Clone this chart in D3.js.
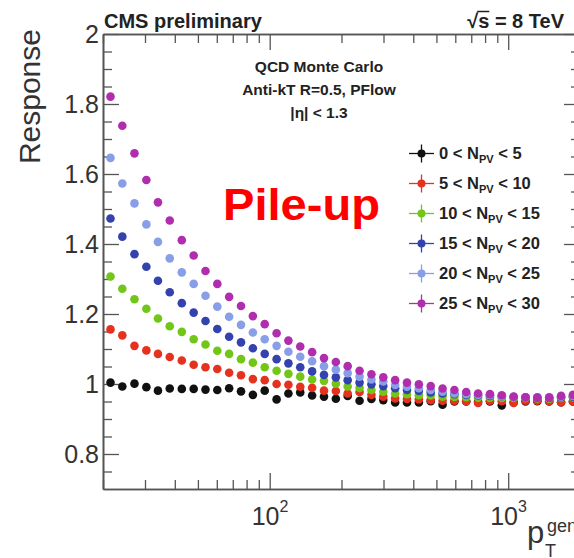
<!DOCTYPE html>
<html>
<head>
<meta charset="utf-8">
<script src="https://cdn.jsdelivr.net/npm/d3@7"></script>
<style>
  html, body { margin: 0; padding: 0; background: #fff; }
  svg { display: block; }
  text { font-family: "Liberation Sans", Arial, Helvetica, sans-serif; }
</style>
</head>
<body>
<svg id="chart" width="574" height="558"></svg>
<script>
// ---------------- data ----------------
const ptBins = [21.5, 24.1, 27.1, 30.4, 34.0, 38.1, 42.8, 48.0, 53.8, 60.3,
  67.6, 75.8, 85.0, 95.3, 106.9, 119.8, 134.3, 150.6, 168.9, 189.4,
  212.3, 238.1, 267.0, 299.4, 335.7, 376.3, 422.0, 473.2, 530.6, 594.9,
  666.8, 747.6, 838.3, 939.9, 1054, 1182, 1325, 1486, 1666, 1868];

const seriesNames = ["0 < N", "5 < N", "10 < N", "15 < N", "20 < N", "25 < N"];
const seriesUpper = ["5", "10", "15", "20", "25", "30"];
const seriesColors = ["#111111", "#e4321e", "#72c617", "#3442ad", "#889ee6", "#b02eae"];

const npv0to5 = [1.004, 0.993, 1.001, 0.991, 0.981, 0.987, 0.986, 0.986, 0.984, 0.983,
  0.988, 0.979, 0.969, 0.981, 0.956, 0.973, 0.976, 0.967, 0.964, 0.958,
  0.966, 0.952, 0.957, 0.954, 0.947, 0.947, 0.947, 0.951, 0.941, 0.950,
  0.950, 0.949, 0.950, 0.939, 0.948, 0.950, 0.951, 0.950, 0.948, 0.950];
const npv5to10 = [1.156, 1.139, 1.109, 1.096, 1.086, 1.077, 1.067, 1.055, 1.048, 1.043,
  1.032, 1.025, 1.014, 1.011, 1.000, 0.998, 0.992, 0.989, 0.981, 0.980,
  0.973, 0.977, 0.969, 0.964, 0.959, 0.957, 0.956, 0.954, 0.952, 0.952,
  0.951, 0.946, 0.952, 0.951, 0.946, 0.952, 0.952, 0.951, 0.947, 0.950];
const npv10to15 = [1.307, 1.272, 1.242, 1.215, 1.187, 1.165, 1.149, 1.128, 1.113, 1.095,
  1.086, 1.071, 1.061, 1.048, 1.038, 1.029, 1.021, 1.013, 1.009, 1.001,
  0.993, 0.989, 0.983, 0.978, 0.973, 0.971, 0.968, 0.967, 0.964, 0.963,
  0.962, 0.961, 0.961, 0.960, 0.960, 0.960, 0.959, 0.958, 0.960, 0.962];
const npv15to20 = [1.473, 1.421, 1.371, 1.335, 1.295, 1.262, 1.231, 1.204, 1.180, 1.157,
  1.135, 1.119, 1.102, 1.086, 1.071, 1.059, 1.048, 1.036, 1.026, 1.019,
  1.011, 1.004, 0.999, 0.994, 0.988, 0.983, 0.980, 0.976, 0.973, 0.971,
  0.969, 0.967, 0.966, 0.965, 0.963, 0.962, 0.961, 0.961, 0.962, 0.964];
const npv20to25 = [1.646, 1.573, 1.516, 1.456, 1.406, 1.359, 1.319, 1.286, 1.252, 1.221,
  1.192, 1.169, 1.147, 1.128, 1.109, 1.092, 1.078, 1.065, 1.051, 1.041,
  1.031, 1.021, 1.013, 1.007, 0.997, 0.992, 0.988, 0.983, 0.978, 0.973,
  0.971, 0.969, 0.968, 0.965, 0.963, 0.962, 0.962, 0.962, 0.964, 0.966];
const npv25to30 = [1.821, 1.738, 1.659, 1.583, 1.519, 1.467, 1.411, 1.367, 1.323, 1.286,
  1.249, 1.223, 1.194, 1.171, 1.145, 1.124, 1.107, 1.091, 1.074, 1.063,
  1.051, 1.038, 1.028, 1.019, 1.011, 1.004, 0.999, 0.994, 0.987, 0.983,
  0.977, 0.973, 0.971, 0.968, 0.964, 0.962, 0.961, 0.961, 0.966, 0.969];

const allSeries = [npv0to5, npv5to10, npv10to15, npv15to20, npv20to25, npv25to30];

const yTicks = [0.8, 1, 1.2, 1.4, 1.6, 1.8, 2];
const yTickLabels = ["0.8", "1", "1.2", "1.4", "1.6", "1.8", "2"];
const yMinorTicks = [0.75, 0.85, 0.9, 0.95, 1.05, 1.1, 1.15, 1.25, 1.3, 1.35, 1.45, 1.5, 1.55, 1.65, 1.7, 1.75, 1.85, 1.9, 1.95];
const xMajorTicks = [100, 1000];
const xTickBase = ["10", "10"];
const xTickExp = ["2", "3"];
const xMinorTicks = [20, 30, 40, 50, 60, 70, 80, 90, 200, 300, 400, 500, 600, 700, 800, 900, 2000];

// ---------------- layout ----------------
const svg = d3.select("#chart");
const L = 103, R = 580, T = 34, B = 489;
const x = d3.scaleLog().domain([20, 2000]).range([L, R]);
const y = d3.scaleLinear().domain([0.7, 2]).range([B, T]);

svg.append("rect").attr("width", 574).attr("height", 558).attr("fill", "#fff");

const axisColor = "#555";
function styleAxis(g) {
  g.select(".domain").attr("stroke", axisColor).attr("stroke-width", 1.6);
  g.selectAll(".tick line").attr("stroke", axisColor).attr("stroke-width", 1.3);
  g.selectAll(".tick text").remove();
}
// Left
svg.append("g").attr("transform", `translate(${L},0)`)
  .call(d3.axisLeft(y).tickValues(yTicks).tickSize(-16).tickSizeOuter(0)).call(styleAxis);
svg.append("g").attr("transform", `translate(${L},0)`)
  .call(d3.axisLeft(y).tickValues(yMinorTicks).tickSize(-9).tickSizeOuter(0)).call(styleAxis);
// Right
svg.append("g").attr("transform", `translate(${R},0)`)
  .call(d3.axisRight(y).tickValues(yTicks).tickSize(-16).tickSizeOuter(0)).call(styleAxis);
svg.append("g").attr("transform", `translate(${R},0)`)
  .call(d3.axisRight(y).tickValues(yMinorTicks).tickSize(-9).tickSizeOuter(0)).call(styleAxis);
// Bottom
svg.append("g").attr("transform", `translate(0,${B})`)
  .call(d3.axisBottom(x).tickValues(xMajorTicks).tickSize(-16).tickSizeOuter(0)).call(styleAxis);
svg.append("g").attr("transform", `translate(0,${B})`)
  .call(d3.axisBottom(x).tickValues(xMinorTicks).tickSize(-9).tickSizeOuter(0)).call(styleAxis);
// Top
svg.append("g").attr("transform", `translate(0,${T})`)
  .call(d3.axisTop(x).tickValues(xMajorTicks).tickSize(-16).tickSizeOuter(0)).call(styleAxis);
svg.append("g").attr("transform", `translate(0,${T})`)
  .call(d3.axisTop(x).tickValues(xMinorTicks).tickSize(-9).tickSizeOuter(0)).call(styleAxis);

// Y tick labels
svg.append("g").selectAll("text").data(yTicks).join("text")
  .attr("x", L - 4).attr("y", d => y(d)).attr("dy", "0.36em")
  .attr("text-anchor", "end").attr("font-size", 25).attr("fill", "#333")
  .text((d, i) => yTickLabels[i]);

// X tick labels (10^n)
const xl = svg.append("g").selectAll("text").data(xMajorTicks).join("text")
  .attr("x", d => x(d) - 18).attr("y", 525)
  .attr("font-size", 25).attr("fill", "#333");
xl.append("tspan").text((d, i) => xTickBase[i]);
xl.append("tspan").attr("font-size", 16).attr("dy", -13).text((d, i) => xTickExp[i]);

// Axis titles
svg.append("text").attr("transform", "translate(40,29) rotate(-90)")
  .attr("text-anchor", "end").attr("font-size", 30).attr("fill", "#333").text("Response");
svg.append("text").attr("x", 527).attr("y", 543).attr("font-size", 31).attr("fill", "#333").text("p");
svg.append("text").attr("x", 545).attr("y", 557).attr("font-size", 18).attr("fill", "#333").text("T");
svg.append("text").attr("x", 547).attr("y", 532).attr("font-size", 18).attr("fill", "#333").text("gen");

// Header
svg.append("text").attr("x", 104).attr("y", 28).attr("font-size", 20).attr("font-weight", "bold")
  .attr("fill", "#222").text("CMS preliminary");
const sq = svg.append("text").attr("x", 564).attr("y", 28).attr("font-size", 20).attr("font-weight", "bold")
  .attr("fill", "#222").attr("text-anchor", "end");
sq.append("tspan").text("\u221A");
sq.append("tspan").text("s = 8 TeV");
{
  const node = sq.node();
  const s1 = node.getEndPositionOfChar(1).x;
  const r0 = node.getEndPositionOfChar(0).x;
  svg.append("line").attr("x1", r0 - 1).attr("x2", s1).attr("y1", 11.5).attr("y2", 11.5)
    .attr("stroke", "#222").attr("stroke-width", 1.5);
}

// Annotation
const ann = ["QCD Monte Carlo", "Anti-kT R=0.5, PFlow", "|\u03B7| < 1.3"];
svg.append("g").selectAll("text").data(ann).join("text")
  .attr("x", 319).attr("y", (d, i) => 72 + 23 * i).attr("text-anchor", "middle")
  .attr("font-size", 15.5).attr("font-weight", "bold").attr("fill", "#222").text(d => d);

// Pile-up label
svg.append("text").attr("x", 223).attr("y", 220).attr("font-size", 44)
  .attr("font-family", "Lato, 'Open Sans', sans-serif").attr("font-weight", "bold")
  .attr("fill", "#ff0000").attr("textLength", 157).attr("lengthAdjust", "spacingAndGlyphs").text("Pile-up");

// Data points
const pts = svg.append("g");
allSeries.forEach((vals, si) => {
  pts.append("g").selectAll("circle").data(vals).join("circle")
    .attr("cx", (d, i) => x(ptBins[i])).attr("cy", d => y(d)).attr("r", 4.3)
    .attr("fill", seriesColors[si]);
});

// Legend
const leg = svg.append("g").selectAll("g").data(seriesNames).join("g")
  .attr("transform", (d, i) => `translate(0,${153.5 + 30 * i})`);
leg.append("line").attr("x1", 409).attr("x2", 434).attr("y1", 0).attr("y2", 0)
  .attr("stroke", (d, i) => seriesColors[i]).attr("stroke-width", 1.3);
leg.append("line").attr("x1", 421.5).attr("x2", 421.5).attr("y1", -9).attr("y2", 9)
  .attr("stroke", (d, i) => seriesColors[i]).attr("stroke-width", 1.3);
leg.append("circle").attr("cx", 421.5).attr("cy", 0).attr("r", 4).attr("fill", (d, i) => seriesColors[i]);
const lt = leg.append("text").attr("x", 439).attr("y", 5.5).attr("font-size", 16.5)
  .attr("font-weight", "bold").attr("fill", "#222");
lt.append("tspan").text(d => d);
lt.append("tspan").attr("font-size", 11).attr("dy", 4).text("PV");
lt.append("tspan").attr("dy", -4).text((d, i) => " < " + seriesUpper[i]);
</script>
</body>
</html>
